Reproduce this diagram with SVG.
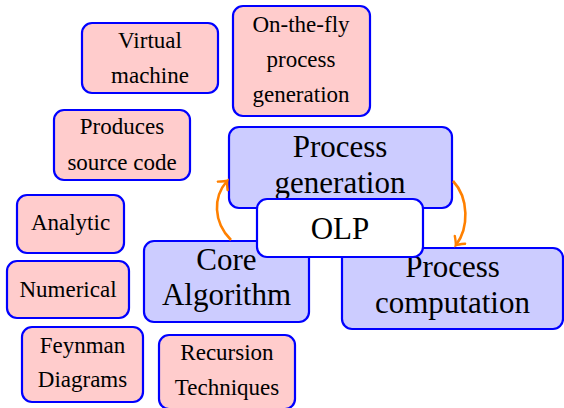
<svg xmlns="http://www.w3.org/2000/svg" width="564" height="408" viewBox="0 0 564 408">
<style>
.pink{fill:#ffcccc;stroke:#0000ff;stroke-width:2.2}
.blue{fill:#ccccff;stroke:#0000ff;stroke-width:2.2}
.white{fill:#ffffff;stroke:#0000ff;stroke-width:2.2}
text{font-family:'Liberation Serif','Times New Roman',Times,serif;fill:#000;text-anchor:middle}
.s{font-size:23px}
.b{font-size:31px}
.arr{fill:none;stroke:#ff8000;stroke-width:2.6;marker-end:url(#tip)}
</style>
<defs>
<marker id="tip" viewBox="-8 -8 12 16" markerWidth="12" markerHeight="16" refX="0" refY="0" orient="auto" markerUnits="userSpaceOnUse">
<path d="M -6.5 -6.5 Q -1.5 -1 0.5 0 Q -1.5 1 -6.5 6.5" fill="none" stroke="#ff8000" stroke-width="2.4" stroke-linecap="round"/>
</marker>
</defs>
<rect width="564" height="408" fill="#ffffff"/>
<g id="virtual-machine"><rect class="pink" x="82" y="23" width="136" height="70" rx="10"/><text class="s" x="150" y="48">Virtual</text><text class="s" x="150" y="83">machine</text></g>
<g id="on-the-fly"><rect class="pink" x="233" y="6" width="137" height="110" rx="10"/><text class="s" x="301" y="32">On-the-fly</text><text class="s" x="301" y="67">process</text><text class="s" x="301" y="102">generation</text></g>
<g id="produces"><rect class="pink" x="54" y="110" width="136" height="70" rx="10"/><text class="s" x="122" y="134">Produces</text><text class="s" x="122" y="170">source code</text></g>
<g id="analytic"><rect class="pink" x="17" y="195" width="107" height="58" rx="10"/><text class="s" x="70.5" y="230">Analytic</text></g>
<g id="numerical"><rect class="pink" x="7" y="261" width="122" height="57" rx="10"/><text class="s" x="68" y="297">Numerical</text></g>
<g id="feynman"><rect class="pink" x="22" y="327" width="121" height="75" rx="10"/><text class="s" x="82.5" y="353">Feynman</text><text class="s" x="82.5" y="387">Diagrams</text></g>
<g id="recursion"><rect class="pink" x="159" y="335" width="136" height="74" rx="10"/><text class="s" x="227" y="360">Recursion</text><text class="s" x="227" y="395">Techniques</text></g>
<g id="process-generation"><rect class="blue" x="229" y="127" width="223" height="81" rx="10"/><text class="b" x="340" y="157">Process</text><text class="b" x="340" y="193">generation</text></g>
<g id="core-algorithm"><rect class="blue" x="144" y="241" width="165" height="81" rx="10"/><text class="b" x="226.5" y="270">Core</text><text class="b" x="226.5" y="305">Algorithm</text></g>
<g id="process-computation"><rect class="blue" x="342" y="248" width="221" height="81" rx="10"/><text class="b" x="452.5" y="277">Process</text><text class="b" x="452.5" y="313">computation</text></g>
<g id="olp"><rect class="white" x="257" y="199" width="166" height="58" rx="10"/><text class="b" x="340" y="239">OLP</text></g>
<g id="connectors">
<path class="arr" d="M 231 240 C 213 222, 213 197, 227 181"/>
<path class="arr" d="M 453 181 C 469 198, 469 228, 456 245"/>
</g>
</svg>
